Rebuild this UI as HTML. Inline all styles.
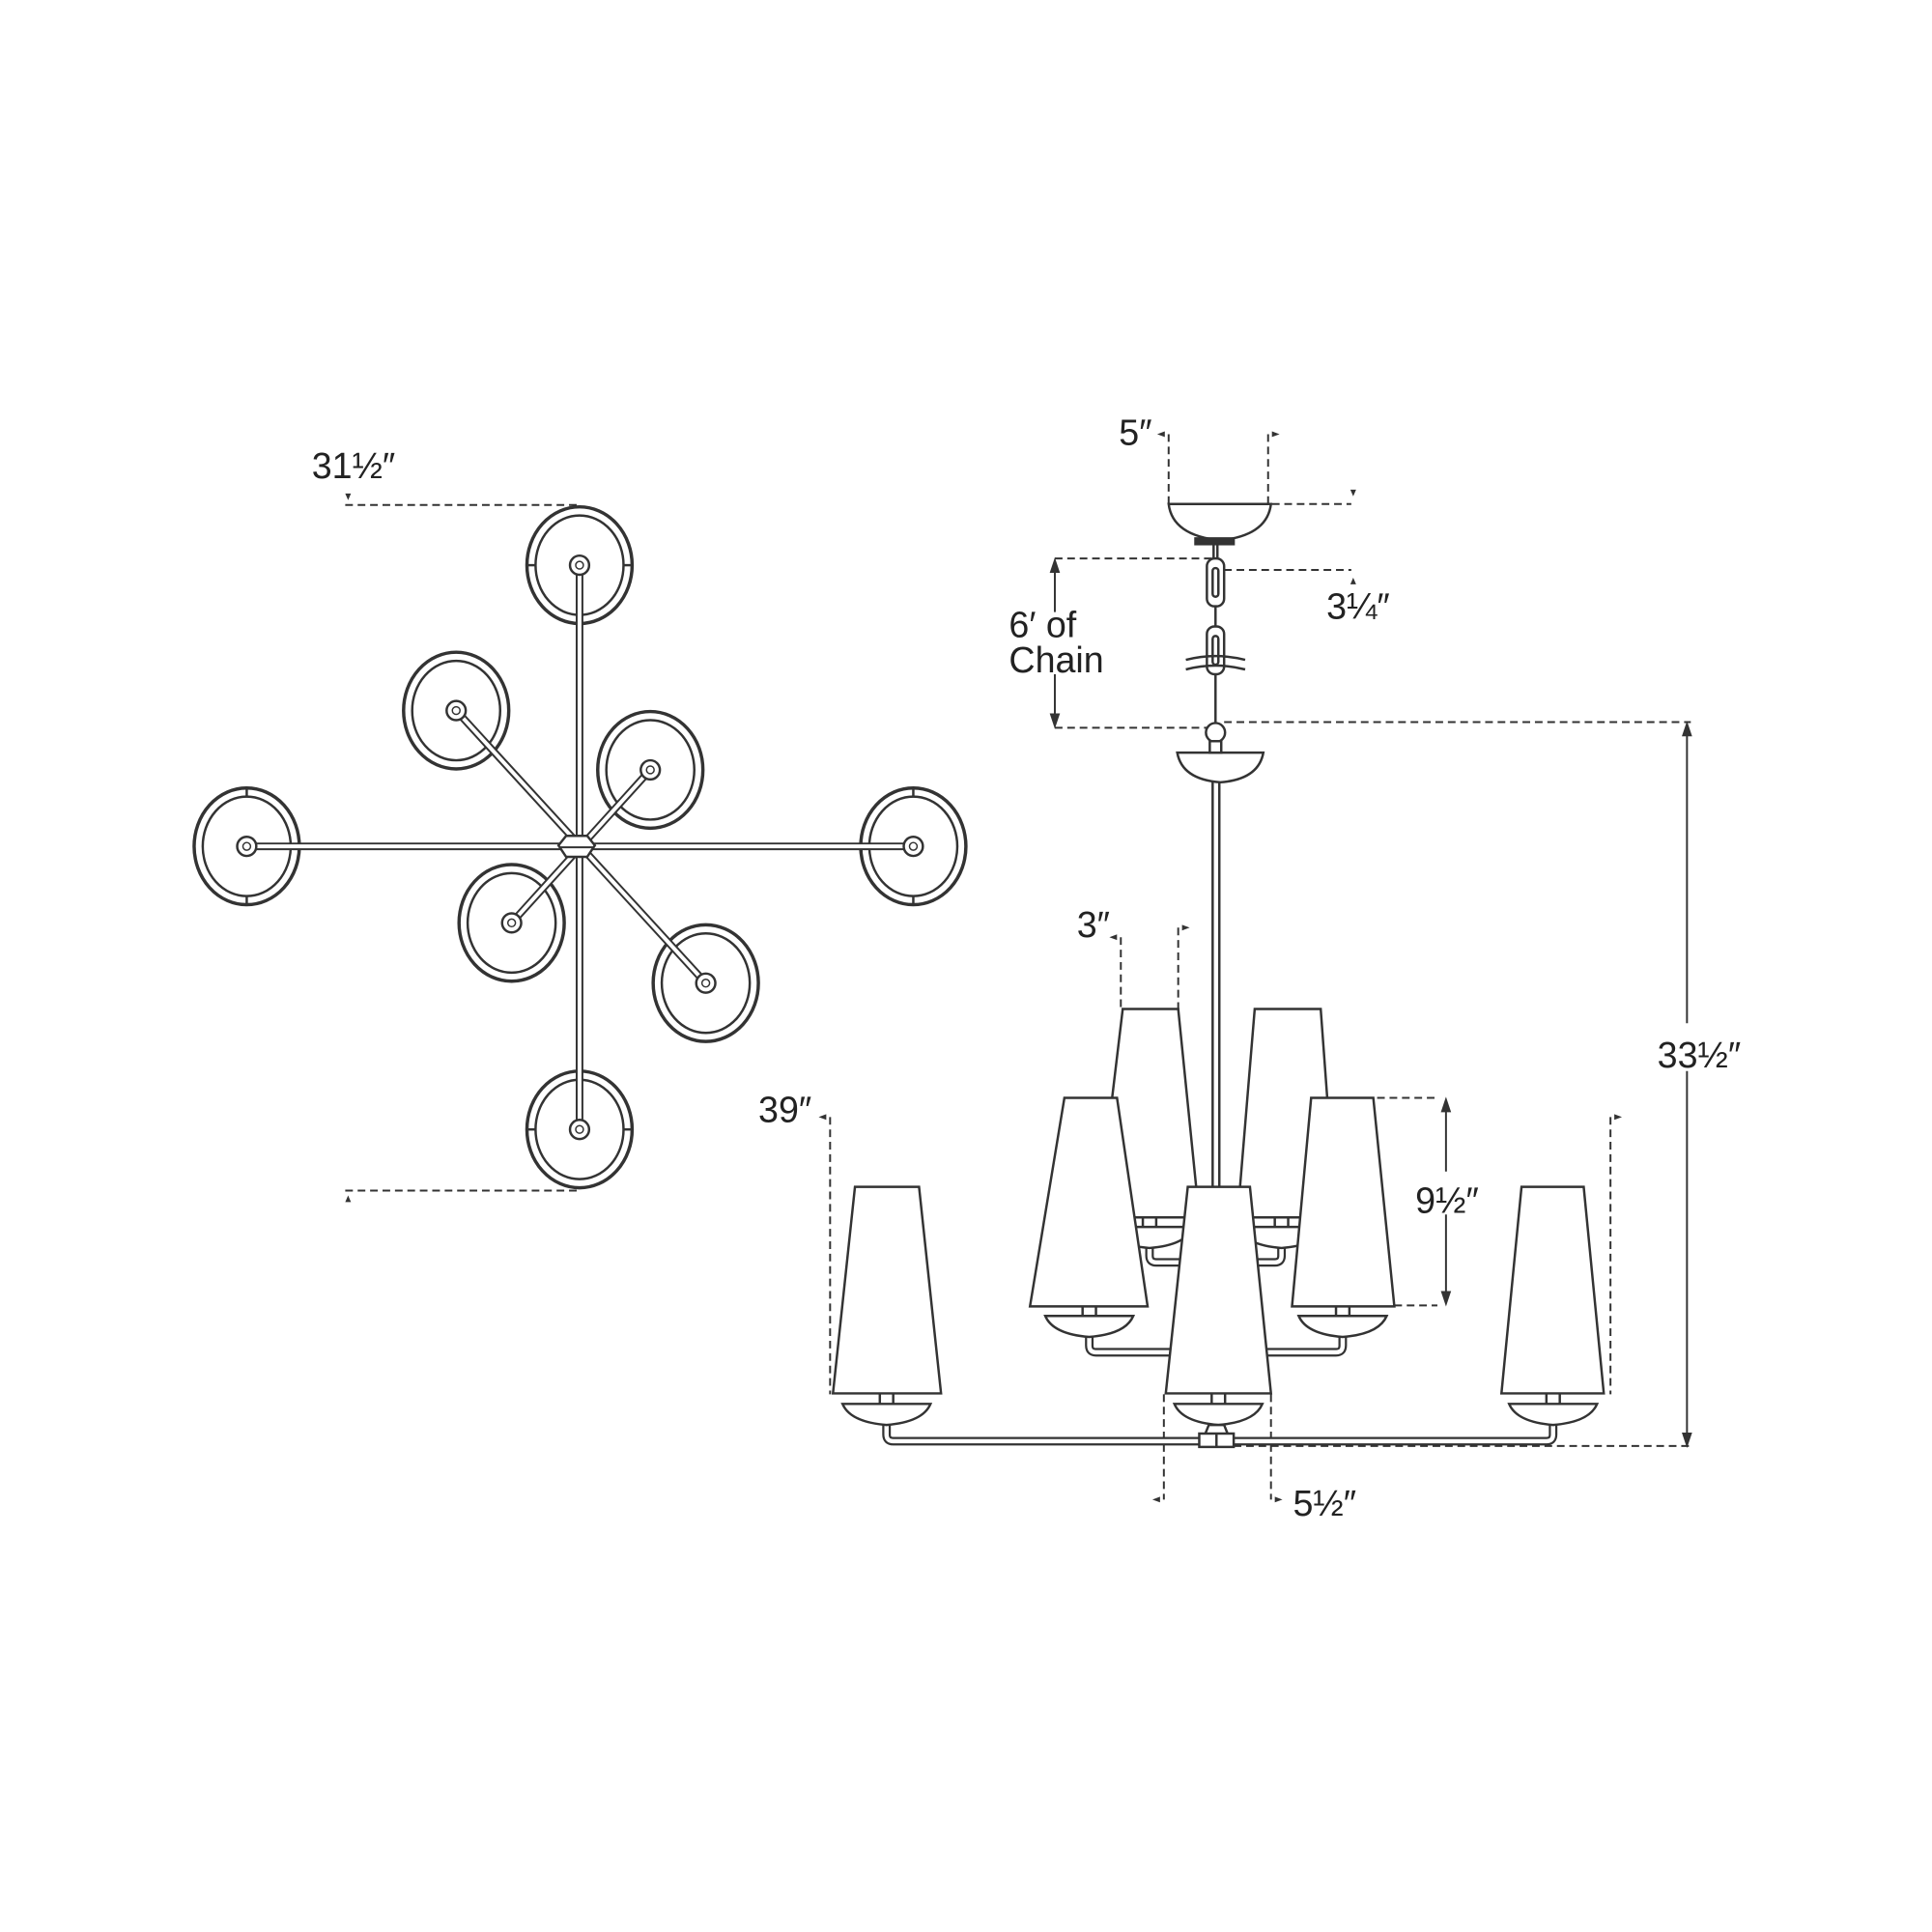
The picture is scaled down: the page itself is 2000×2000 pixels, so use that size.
<!DOCTYPE html>
<html><head><meta charset="utf-8"><style>
html,body{margin:0;padding:0;background:#fff}
svg{display:block}
text{font-family:"Liberation Sans Narrow","Liberation Sans",sans-serif;font-size:38px;fill:#222}
</style></head><body>
<svg width="2000" height="2000" viewBox="0 0 2000 2000" xmlns="http://www.w3.org/2000/svg">
<rect width="2000" height="2000" fill="#fff"/>
<defs>
<g id="disc">
<ellipse cx="0" cy="0" rx="55" ry="61" fill="#fff" stroke="#333" stroke-width="3.5"/>
<ellipse cx="0" cy="0" rx="46" ry="52" fill="none" stroke="#333" stroke-width="2.5"/>
</g>
<g id="hub"><circle r="10" fill="#fff" stroke="#333" stroke-width="2.5"/><circle r="4" fill="none" stroke="#333" stroke-width="1.5"/></g>
</defs>
<g transform="scale(0.99)">
<!-- PLAN VIEW -->
<g stroke="#333" stroke-width="2" stroke-dasharray="8,5" fill="none">
<line x1="361" y1="528" x2="606" y2="528"/>
<line x1="361" y1="1245" x2="606" y2="1245"/>
</g>
<path d="M361 516 l3 7 l3 -7z M361 1257 l3 -7 l3 7z" fill="#333"/>
<text x="326" y="500">31½″</text>

<use href="#disc" x="606" y="591"/>
<use href="#disc" x="258" y="885"/>
<use href="#disc" x="955" y="885"/>
<use href="#disc" x="606" y="1181"/>
<use href="#disc" x="477" y="743"/>
<use href="#disc" x="680" y="805"/>
<use href="#disc" x="535" y="965"/>
<use href="#disc" x="738" y="1028"/>
<g stroke="#333" stroke-width="2.5">
<line x1="258" y1="824" x2="258" y2="834"/><line x1="258" y1="936" x2="258" y2="946"/>
<line x1="955" y1="824" x2="955" y2="834"/><line x1="955" y1="936" x2="955" y2="946"/>
<line x1="551" y1="1181" x2="561" y2="1181"/><line x1="651" y1="1181" x2="661" y2="1181"/>
<line x1="551" y1="591" x2="561" y2="591"/><line x1="651" y1="591" x2="661" y2="591"/>
</g>
<g stroke="#333" stroke-width="8" stroke-linecap="round">
<line x1="258" y1="885" x2="955" y2="885"/>
<line x1="606" y1="591" x2="606" y2="1181"/>
<line x1="477" y1="743" x2="738" y2="1028"/>
<line x1="680" y1="805" x2="535" y2="965"/>
</g>
<g stroke="#fff" stroke-width="4" stroke-linecap="round">
<line x1="258" y1="885" x2="955" y2="885"/>
<line x1="606" y1="591" x2="606" y2="1181"/>
<line x1="477" y1="743" x2="738" y2="1028"/>
<line x1="680" y1="805" x2="535" y2="965"/>
</g>
<use href="#hub" x="606" y="591"/><use href="#hub" x="258" y="885"/><use href="#hub" x="955" y="885"/><use href="#hub" x="606" y="1181"/>
<use href="#hub" x="477" y="743"/><use href="#hub" x="680" y="805"/><use href="#hub" x="535" y="965"/><use href="#hub" x="738" y="1028"/>
<polygon points="592,874 614,874 622,884 614,896 592,896 584,884" fill="#fff" stroke="#333" stroke-width="2.5"/>
<line x1="586" y1="886" x2="620" y2="886" stroke="#333" stroke-width="2"/>

<!-- ELEVATION dims -->
<g stroke="#333" stroke-width="2" stroke-dasharray="8,5" fill="none">
<line x1="1222" y1="454" x2="1222" y2="527"/>
<line x1="1326" y1="454" x2="1326" y2="527"/>
<line x1="1330" y1="527" x2="1413" y2="527"/>
<line x1="1103" y1="584" x2="1271" y2="584"/>
<line x1="1103" y1="761" x2="1271" y2="761"/>
<line x1="1280" y1="596" x2="1413" y2="596"/>
<line x1="1280" y1="755" x2="1768" y2="755"/>
<line x1="1172" y1="980" x2="1172" y2="1055"/>
<line x1="1232" y1="970" x2="1232" y2="1055"/>
<line x1="868" y1="1168" x2="868" y2="1458"/>
<line x1="1684" y1="1168" x2="1684" y2="1458"/>
<line x1="1440" y1="1148" x2="1503" y2="1148"/>
<line x1="1458" y1="1365" x2="1503" y2="1365"/>
<line x1="1217" y1="1458" x2="1217" y2="1568"/>
<line x1="1329" y1="1458" x2="1329" y2="1568"/>
<line x1="1290" y1="1512" x2="1768" y2="1512"/>
</g>
<g fill="#333">
<path d="M1210 454 l8 -3 v6z M1338 454 l-8 -3 v6z"/>
<path d="M1415 519 l-3 -7 h6z M1415 604 l-3 7 h6z"/>
<path d="M1160 980 l8 -3 v6z M1244 970 l-8 -3 v6z"/>
<path d="M856 1168 l8 -3 v6z M1696 1168 l-8 -3 v6z"/>
<path d="M1205 1568 l8 -3 v6z M1341 1568 l-8 -3 v6z"/>
</g>
<g stroke="#333" stroke-width="2" fill="#333">
<line x1="1103" y1="590" x2="1103" y2="640"/><path d="M1103 586 l-4 12 h8z"/>
<line x1="1103" y1="705" x2="1103" y2="755"/><path d="M1103 759 l-4 -12 h8z"/>
<line x1="1764" y1="760" x2="1764" y2="1070"/><path d="M1764 757 l-4 12 h8z"/>
<line x1="1764" y1="1120" x2="1764" y2="1508"/><path d="M1764 1511 l-4 -12 h8z"/>
<line x1="1512" y1="1152" x2="1512" y2="1225"/><path d="M1512 1150 l-4 12 h8z"/>
<line x1="1512" y1="1270" x2="1512" y2="1361"/><path d="M1512 1363 l-4 -12 h8z"/>
</g>
<text x="1170" y="465">5″</text>
<text x="1387" y="647">3¼″</text>
<text x="1055" y="666">6′ of</text>
<text x="1055" y="703">Chain</text>
<text x="1733" y="1116">33½″</text>
<text x="1126" y="980">3″</text>
<text x="793" y="1173">39″</text>
<text x="1480" y="1268">9½″</text>
<text x="1352" y="1585">5½″</text>

<!-- canopy & chain -->
<g stroke="#333" stroke-width="2.5" fill="#fff">
<path d="M1222 527 L1329 527 Q1325 560 1276 565 Q1226 560 1222 527Z"/>
<rect x="1250" y="563" width="40" height="6" fill="#333"/>
<line x1="1269" y1="569" x2="1269" y2="584"/><line x1="1273" y1="569" x2="1273" y2="584"/>
<rect x="1262" y="584" width="18" height="50" rx="8"/>
<rect x="1268" y="594" width="6" height="30" rx="3"/>
<line x1="1271" y1="634" x2="1271" y2="655"/>
<rect x="1262" y="655" width="18" height="50" rx="8"/>
<rect x="1268" y="665" width="6" height="30" rx="3"/>
<path d="M1240 690 Q1271 682 1302 690 M1240 700 Q1271 692 1302 700" fill="none"/>
<line x1="1271" y1="705" x2="1271" y2="755"/>
<circle cx="1271" cy="766" r="10"/>
<path d="M1231 787 L1321 787 Q1316 815 1276 818 Q1236 815 1231 787Z"/>
<rect x="1265" y="775" width="12" height="12"/>
</g>
<g stroke="#333" stroke-width="2.5"><line x1="1268" y1="818" x2="1268" y2="1245"/><line x1="1275" y1="818" x2="1275" y2="1245"/></g>

<!-- arms (pipes) -->
<g fill="none" stroke="#333" stroke-width="9" stroke-linejoin="round">
<path d="M1202 1304 L1202 1313 Q1202 1320 1209 1320 L1333 1320 Q1340 1320 1340 1313 L1340 1304"/>
<path d="M1139 1397 L1139 1407 Q1139 1414 1146 1414 L1397 1414 Q1404 1414 1404 1407 L1404 1397"/>
<path d="M927 1489 L927 1500 Q927 1507 934 1507 L1617 1507 Q1624 1507 1624 1500 L1624 1489"/>
</g>
<g fill="none" stroke="#fff" stroke-width="4.5" stroke-linejoin="round">
<path d="M1202 1304 L1202 1313 Q1202 1320 1209 1320 L1333 1320 Q1340 1320 1340 1313 L1340 1304"/>
<path d="M1139 1397 L1139 1407 Q1139 1414 1146 1414 L1397 1414 Q1404 1414 1404 1407 L1404 1397"/>
<path d="M927 1489 L927 1500 Q927 1507 934 1507 L1617 1507 Q1624 1507 1624 1500 L1624 1489"/>
</g>

<!-- shades and cups -->
<g stroke="#333" stroke-width="2.5" fill="#fff">
<path d="M1195 1273 v10 M1209 1273 v10 M1333 1273 v10 M1347 1273 v10" fill="none"/>
<path d="M1156 1283 L1248 1283 Q1240 1302 1202 1305 Q1164 1302 1156 1283Z"/>
<path d="M1294 1283 L1386 1283 Q1378 1302 1340 1305 Q1302 1302 1294 1283Z"/>
<path d="M1174 1055 L1232 1055 L1254 1273 L1148 1273Z"/>
<path d="M1312 1055 L1381 1055 L1397 1273 L1294 1273Z"/>

<path d="M1132 1366 v10 M1146 1366 v10 M1397 1366 v10 M1411 1366 v10" fill="none"/>
<path d="M1093 1376 L1185 1376 Q1177 1395 1139 1398 Q1101 1395 1093 1376Z"/>
<path d="M1358 1376 L1450 1376 Q1442 1395 1404 1398 Q1366 1395 1358 1376Z"/>
<path d="M1113 1148 L1168 1148 L1200 1366 L1077 1366Z"/>
<path d="M1371 1148 L1436 1148 L1458 1366 L1351 1366Z"/>

<path d="M920 1457 v11 M934 1457 v11 M1267 1457 v11 M1281 1457 v11 M1617 1457 v11 M1631 1457 v11" fill="none"/>
<path d="M881 1468 L973 1468 Q965 1487 927 1490 Q889 1487 881 1468Z"/>
<path d="M1228 1468 L1320 1468 Q1312 1487 1274 1490 Q1236 1487 1228 1468Z"/>
<path d="M1578 1468 L1670 1468 Q1662 1487 1624 1490 Q1586 1487 1578 1468Z"/>
<path d="M894 1241 L961 1241 L984 1457 L871 1457Z"/>
<path d="M1242 1241 L1307 1241 L1329 1457 L1219 1457Z"/>
<path d="M1591 1241 L1656 1241 L1677 1457 L1570 1457Z"/>

<path d="M1264 1490 L1280 1490 L1284 1500 L1260 1500Z"/>
<rect x="1254" y="1499" width="36" height="14"/>
<line x1="1272" y1="1499" x2="1272" y2="1513"/>
</g>
</g>
</svg>
</body></html>
